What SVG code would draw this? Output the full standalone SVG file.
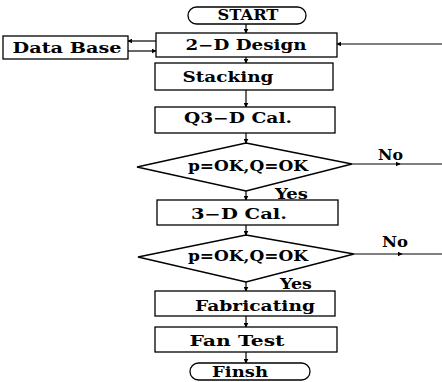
<svg xmlns="http://www.w3.org/2000/svg" width="442" height="382" viewBox="0 0 442 382">
<defs>
<marker id="ah" viewBox="0 0 8 8" refX="7" refY="4" markerWidth="5" markerHeight="5" orient="auto" markerUnits="userSpaceOnUse">
<path d="M0,0 L8,4 L0,8 z" fill="#000"/>
</marker>
<style>
.b{fill:#fff;stroke:#000;stroke-width:1.3}
.t{font-family:"DejaVu Serif","Liberation Serif",serif;font-weight:bold;font-size:14px;fill:#000}
.c{fill:none;stroke:#000;stroke-width:1.2}
</style>
</defs>
<rect width="442" height="382" fill="#fff"/>
<g id="connectors">
<line class="c" x1="246" y1="24" x2="246" y2="33" marker-end="url(#ah)"/>
<line class="c" x1="246" y1="57" x2="246" y2="63" marker-end="url(#ah)"/>
<line class="c" x1="246" y1="90" x2="246" y2="107" marker-end="url(#ah)"/>
<line class="c" x1="246" y1="133" x2="246" y2="143" marker-end="url(#ah)"/>
<line class="c" x1="246" y1="191" x2="246" y2="200" marker-end="url(#ah)"/>
<line class="c" x1="246" y1="225" x2="246" y2="235" marker-end="url(#ah)"/>
<line class="c" x1="246" y1="282" x2="246" y2="291" marker-end="url(#ah)"/>
<line class="c" x1="246" y1="316" x2="246" y2="327" marker-end="url(#ah)"/>
<line class="c" x1="246" y1="352" x2="246" y2="363" marker-end="url(#ah)"/>
<line class="c" x1="156" y1="41" x2="128" y2="41" marker-end="url(#ah)"/>
<line class="c" x1="128" y1="51" x2="156" y2="51" marker-end="url(#ah)"/>
<line class="c" x1="442" y1="44" x2="337" y2="44" marker-end="url(#ah)"/>
<line class="c" x1="352" y1="164" x2="400" y2="164" marker-end="url(#ah)"/>
<line class="c" x1="398" y1="164" x2="442" y2="164"/>
<line class="c" x1="354" y1="254" x2="402" y2="254" marker-end="url(#ah)"/>
<line class="c" x1="400" y1="254" x2="442" y2="254"/>
</g>
<g id="start"><rect class="b" x="188" y="7" width="118" height="17" rx="8.5"/><text class="t" x="248" y="20" text-anchor="middle" textLength="61" lengthAdjust="spacingAndGlyphs">START</text></g>
<g id="database"><rect class="b" x="3" y="36" width="125" height="23"/><text class="t" x="67" y="53" text-anchor="middle" textLength="109" lengthAdjust="spacingAndGlyphs">Data Base</text></g>
<g id="design2d"><rect class="b" x="156" y="33" width="181" height="24"/><text class="t" x="246" y="50" text-anchor="middle" textLength="121" lengthAdjust="spacingAndGlyphs">2−D Design</text></g>
<g id="stacking"><rect class="b" x="155" y="63" width="178" height="27"/><text class="t" x="228" y="82" text-anchor="middle" textLength="91" lengthAdjust="spacingAndGlyphs">Stacking</text></g>
<g id="q3d"><rect class="b" x="155" y="107" width="180" height="26"/><text class="t" x="238" y="123" text-anchor="middle" textLength="108" lengthAdjust="spacingAndGlyphs">Q3−D Cal.</text></g>
<g id="check1"><polygon class="b" points="246,143 352,164 246,191 137,167"/><text class="t" x="248" y="171" text-anchor="middle" textLength="120" lengthAdjust="spacingAndGlyphs">p=OK,Q=OK</text></g>
<g id="cal3d"><rect class="b" x="157" y="200" width="181" height="25"/><text class="t" x="239" y="219" text-anchor="middle" textLength="96" lengthAdjust="spacingAndGlyphs">3−D Cal.</text></g>
<g id="check2"><polygon class="b" points="246,235 354,254 246,282 138,257"/><text class="t" x="248" y="261" text-anchor="middle" textLength="120" lengthAdjust="spacingAndGlyphs">p=OK,Q=OK</text></g>
<g id="fabricating"><rect class="b" x="155" y="291" width="180" height="25"/><text class="t" x="255" y="311" text-anchor="middle" textLength="120" lengthAdjust="spacingAndGlyphs">Fabricating</text></g>
<g id="fantest"><rect class="b" x="155" y="327" width="182" height="25"/><text class="t" x="237" y="346" text-anchor="middle" textLength="95" lengthAdjust="spacingAndGlyphs">Fan Test</text></g>
<g id="finish"><rect class="b" x="190" y="363" width="120" height="17" rx="8.5"/><text class="t" x="240" y="377" text-anchor="middle" textLength="56" lengthAdjust="spacingAndGlyphs">Finsh</text></g>
<g id="labels">
<text class="t" x="378" y="160" textLength="25" lengthAdjust="spacingAndGlyphs">No</text>
<text class="t" x="275" y="199" textLength="33" lengthAdjust="spacingAndGlyphs">Yes</text>
<text class="t" x="382" y="247" textLength="26" lengthAdjust="spacingAndGlyphs">No</text>
<text class="t" x="280" y="289" textLength="32" lengthAdjust="spacingAndGlyphs">Yes</text>
</g>
</svg>
